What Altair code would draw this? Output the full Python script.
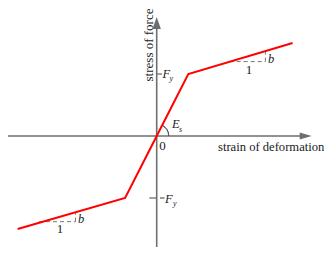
import altair as alt
import pandas as pd

# ---- data ----
strain = [-4.4, -1.0, 0.0, 1.0, 4.3]
stress = [-1.5, -1.0, 0.0, 1.0, 1.5]
Fy = 1.0
x_title = "strain of deformation"
y_title = "stress of force"

# ---- layout ----
W, H = 316, 239
ox, oy, ux, uy = 148.7, 128.0, 31.6, 62.0
xs = alt.Scale(domain=[-ox / ux, (W - ox) / ux], nice=False, zero=False)
ys = alt.Scale(domain=[-(H - oy) / uy, oy / uy], nice=False, zero=False)
GREY = "#6e6e6e"
TXT = "#222222"
SERIF = "Liberation Serif"


def X(f="x"):
    return alt.X(f, type="quantitative", scale=xs, axis=None)


def Y(f="y"):
    return alt.Y(f, type="quantitative", scale=ys, axis=None)


# axes
axes_df = pd.DataFrame({"x": [xs.domain[0], 0.0], "x2": [4.715, 0.0],
                        "y": [0.0, ys.domain[0]], "y2": [0.0, 1.823]})
axes = alt.Chart(axes_df).mark_rule(color=GREY, strokeWidth=1.6).encode(
    x=X(), x2="x2", y=Y(), y2="y2")

arrow_r = alt.Chart(pd.DataFrame({"x": [4.715], "y": [0.0]})).mark_point(
    shape="M-1,-0.58L1,0L-1,0.58Z", filled=True, size=144, color=GREY, opacity=1
).encode(x=X(), y=Y())
arrow_u = alt.Chart(pd.DataFrame({"x": [0.0], "y": [1.823]})).mark_point(
    shape="M0,-1L0.7,1L-0.7,1Z", filled=True, size=144, color=GREY, opacity=1
).encode(x=X(), y=Y())

# ticks at +/- Fy and the minus sign
ticks_df = pd.DataFrame({"x": [0.0, -0.234], "x2": [0.17, 0.0], "y": [Fy, -Fy]})
ticks = alt.Chart(ticks_df).mark_rule(color=GREY, strokeWidth=1.3).encode(
    x=X(), x2="x2", y=Y())
minus = alt.Chart(pd.DataFrame({"x": [0.104], "x2": [0.25], "y": [-Fy]})).mark_rule(
    color=TXT, strokeWidth=0.9).encode(x=X(), x2="x2", y=Y())

# slope triangles (dashed)
dash_df = pd.DataFrame({
    "x": [2.31, 3.44, -3.725, -2.57],
    "x2": [3.44, 3.44, -2.57, -2.57],
    "y": [1.2, 1.2, -1.382, -1.382],
    "y2": [1.2, 1.37, -1.382, -1.231],
})
dashes = alt.Chart(dash_df).mark_rule(color="#777777", strokeWidth=1,
                                      strokeDash=[4, 3]).encode(
    x=X(), x2="x2", y=Y(), y2="y2")

# Es arc
arc = alt.Chart(pd.DataFrame({"x": [0.0], "y": [0.0]})).mark_arc(
    radius=12, radius2=12, theta=0.47, theta2=1.5708, stroke="#555555",
    strokeWidth=1, fillOpacity=0).encode(x=X(), y=Y())

# curve
curve_df = pd.DataFrame({"x": strain, "y": stress, "i": range(len(strain))})
curve = alt.Chart(curve_df).mark_line(color="#ff0000", strokeWidth=2).encode(
    x=X(), y=Y(), order="i")

# texts
normal_df = pd.DataFrame({
    "t": ["0", "1", "1"],
    "x": [0.184, 2.92, -3.06],
    "y": [-0.218, 1.008, -1.565],
})
normal = alt.Chart(normal_df).mark_text(font=SERIF, fontSize=13, color=TXT,
                                        align="center", baseline="alphabetic").encode(
    x=X(), y=Y(), text="t")

xtitle = alt.Chart(pd.DataFrame({"t": [x_title], "x": [1.94], "y": [-0.234]})).mark_text(
    font=SERIF, fontSize=12.6, color=TXT, align="left", baseline="alphabetic"
).encode(x=X(), y=Y(), text="t")

ital_df = pd.DataFrame({
    "t": ["E", "F", "F", "b", "b"],
    "x": [0.484, 0.184, 0.263, 3.52, -2.49],
    "y": [0.129, 0.935, -1.081, 1.177, -1.403],
})
ital = alt.Chart(ital_df).mark_text(font=SERIF, fontSize=12.5, fontStyle="italic",
                                    color=TXT, align="left",
                                    baseline="alphabetic").encode(
    x=X(), y=Y(), text="t")

sub_df = pd.DataFrame({
    "t": ["s", "y", "y"],
    "x": [0.706, 0.405, 0.516],
    "y": [0.065, 0.887, -1.129],
})
sub = alt.Chart(sub_df).mark_text(font=SERIF, fontSize=8, fontStyle="italic",
                                  color=TXT, align="left",
                                  baseline="alphabetic").encode(
    x=X(), y=Y(), text="t")

ytitle = alt.Chart(pd.DataFrame({"t": [y_title], "x": [-0.117], "y": [1.468]})).mark_text(
    font=SERIF, fontSize=13, color=TXT, angle=270, align="center",
    baseline="alphabetic").encode(x=X(), y=Y(), text="t")

chart = alt.layer(
    axes, arrow_r, arrow_u, ticks, minus, dashes, arc, curve, normal, xtitle, ital,
    sub, ytitle
).properties(
    width=W, height=H, padding=0, background="white",
    autosize=alt.AutoSizeParams(type="none")
).configure_view(stroke=None)

chart.save("out.html", embed_options={"renderer": "svg", "actions": False})
